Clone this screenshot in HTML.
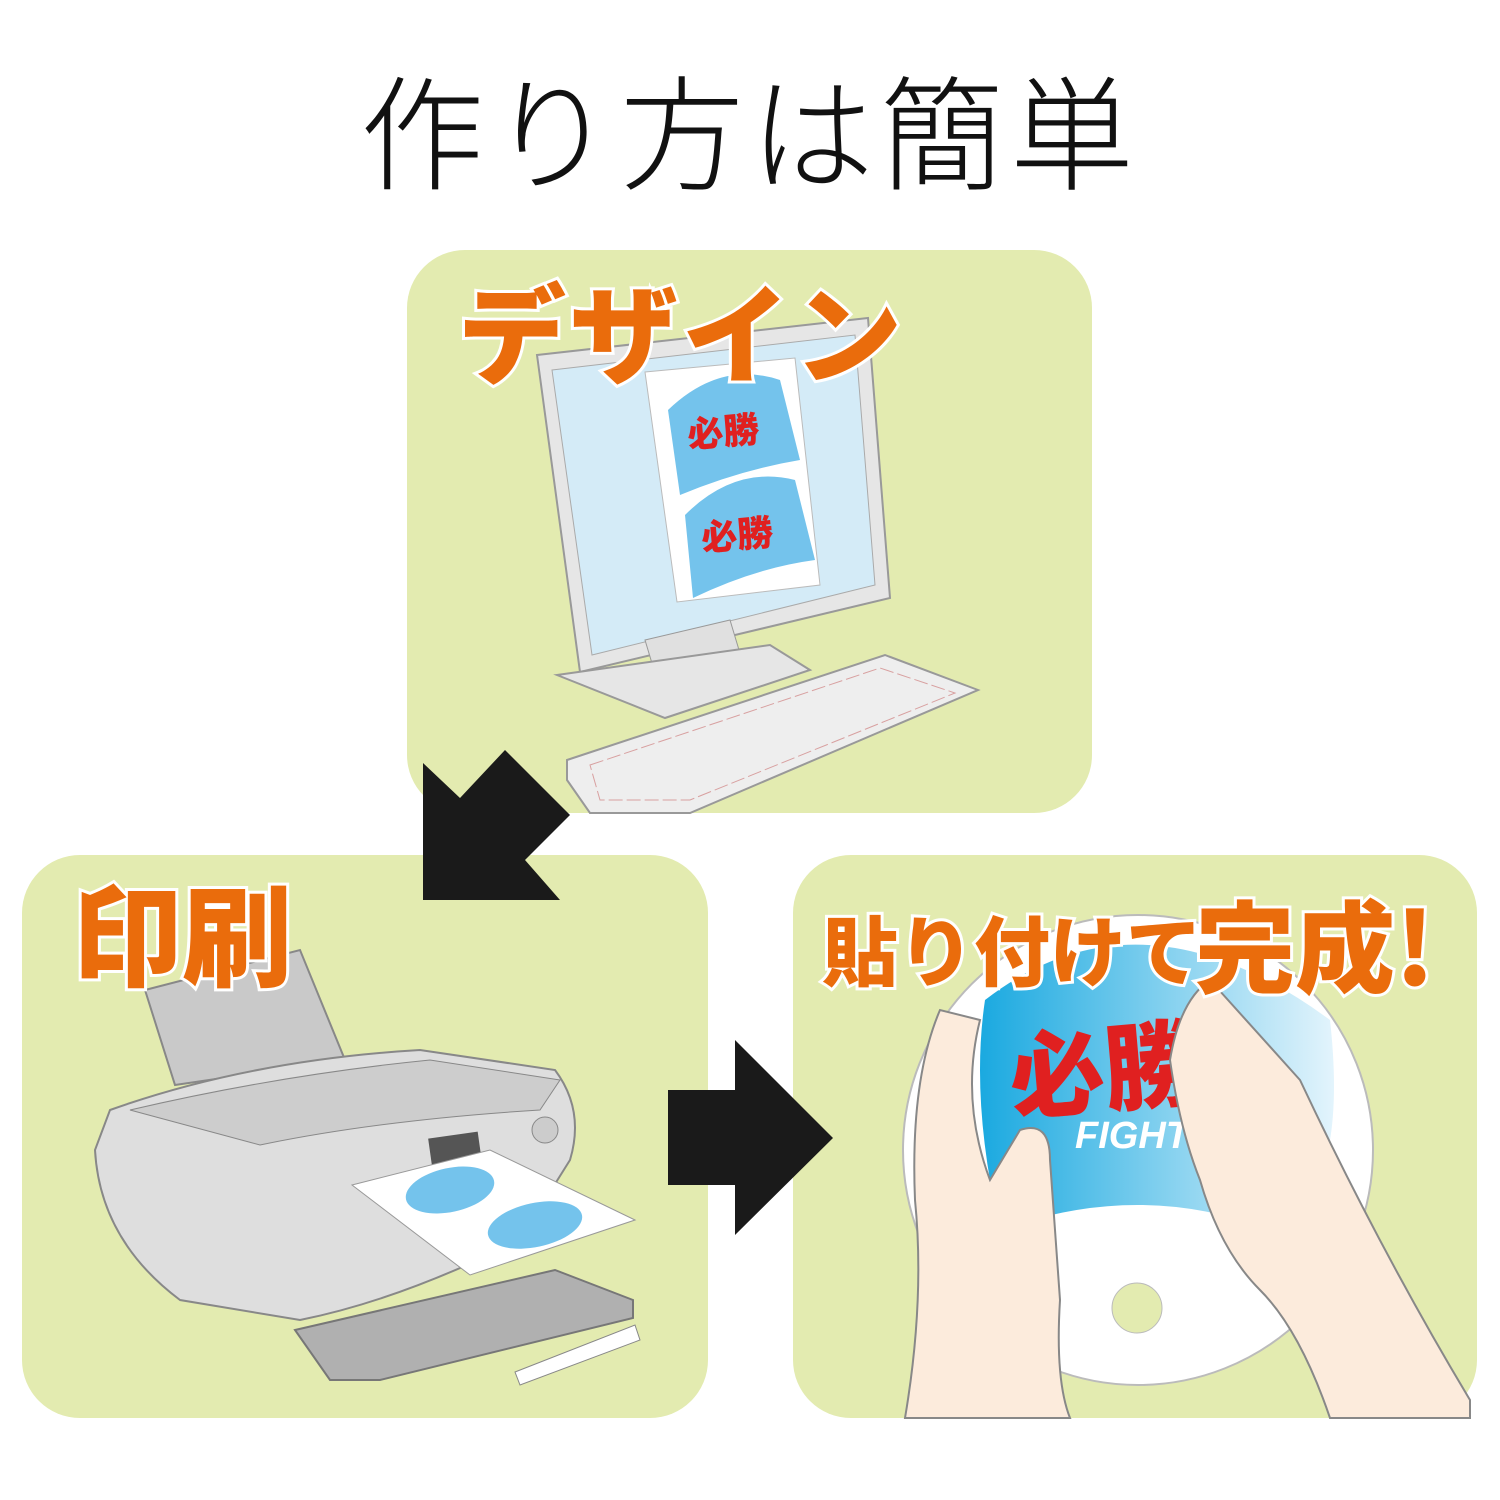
<!DOCTYPE html>
<html><head><meta charset="utf-8"><style>
html,body{margin:0;padding:0;background:#fff;}
body{width:1500px;height:1500px;overflow:hidden;}
svg{display:block}
text{font-family:"Liberation Sans","Noto Sans CJK JP",sans-serif;}
.o{fill:#ea6c0c;stroke:#fff;stroke-width:6;paint-order:stroke;font-weight:900;}
</style></head><body>
<svg width="1500" height="1500" viewBox="0 0 1500 1500" xmlns="http://www.w3.org/2000/svg">
<text x="750" y="180" text-anchor="middle" font-size="124" font-weight="300" letter-spacing="6" fill="#111" style="font-family:'Noto Sans CJK JP',sans-serif;font-weight:300">作り方は簡単</text>

<rect x="407" y="250" width="685" height="563" rx="58" fill="#e3ebb0"/>
<rect x="22" y="855" width="686" height="563" rx="58" fill="#e3ebb0"/>
<rect x="793" y="855" width="684" height="563" rx="58" fill="#e3ebb0"/>

<!-- monitor -->
<polygon points="537,355 868,318 890,598 580,672" fill="#e6e6e6" stroke="#999" stroke-width="2"/>
<polygon points="552,370 855,335 875,585 592,655" fill="#d4ebf7" stroke="#aaa" stroke-width="1"/>
<polygon points="645,640 730,620 745,670 660,690" fill="#e0e0e0" stroke="#999"/>
<polygon points="557,675 770,645 810,670 665,718" fill="#e6e6e6" stroke="#999" stroke-width="2"/>
<polygon points="645,372 795,358 820,585 677,602" fill="#fff" stroke="#bbb"/>
<path d="M668,410 Q720,360 780,380 L800,460 Q740,470 680,495 Z" fill="#74c3ec"/>
<path d="M685,515 Q735,465 795,480 L815,560 Q755,568 693,598 Z" fill="#74c3ec"/>
<text x="688" y="445" font-size="36" font-weight="900" fill="#e02020" transform="rotate(-5 720 440)" style="font-family:'Noto Sans CJK JP'">必勝</text>
<text x="702" y="548" font-size="36" font-weight="900" fill="#e02020" transform="rotate(-5 735 545)" style="font-family:'Noto Sans CJK JP'">必勝</text>
<!-- keyboard -->
<polygon points="567,760 885,655 978,690 690,813 590,813 567,780" fill="#eeeeee" stroke="#999" stroke-width="2"/>
<polygon points="590,765 880,668 955,693 690,800 600,800" fill="none" stroke="#d8a0a0" stroke-width="1" stroke-dasharray="14 4"/>

<!-- arrows -->
<polygon points="505,750 570,815 525,860 560,900 423,900 423,763 460,798" fill="#1a1a1a"/>
<polygon points="668,1090 735,1090 735,1040 833,1138 735,1235 735,1185 668,1185" fill="#1a1a1a"/>

<!-- printer -->
<polygon points="145,990 300,950 345,1060 175,1085" fill="#c9c9c9" stroke="#888" stroke-width="2"/>
<path d="M110,1110 Q250,1060 420,1050 L555,1070 Q585,1110 570,1160 L520,1240 Q400,1300 300,1320 L180,1300 Q100,1240 95,1150 Z" fill="#dedede" stroke="#888" stroke-width="2"/>
<path d="M130,1110 Q280,1075 430,1060 L560,1080 L540,1110 Q380,1120 260,1145 Z" fill="#cdcdcd" stroke="#888"/>
<rect x="430" y="1135" width="50" height="28" fill="#555" transform="rotate(-8 455 1150)"/>
<circle cx="545" cy="1130" r="13" fill="#ccc" stroke="#888"/>
<polygon points="295,1330 555,1270 633,1300 633,1318 380,1380 330,1380" fill="#b0b0b0" stroke="#777" stroke-width="2"/>
<polygon points="515,1372 635,1325 640,1340 520,1385" fill="#fff" stroke="#888"/>
<polygon points="352,1185 490,1150 635,1220 470,1275" fill="#fff" stroke="#999"/>
<ellipse cx="450" cy="1190" rx="45" ry="22" fill="#74c3ec" transform="rotate(-12 450 1190)"/>
<ellipse cx="535" cy="1225" rx="48" ry="22" fill="#74c3ec" transform="rotate(-12 535 1225)"/>

<!-- disc & hands -->
<defs><linearGradient id="g" x1="0" x2="1"><stop offset="0" stop-color="#1aa9e0"/><stop offset="1" stop-color="#e3f4fc"/></linearGradient></defs>
<circle cx="1138" cy="1150" r="235" fill="#fff" stroke="#bbb" stroke-width="2"/>
<path d="M985,1000 Q1140,880 1330,1020 Q1350,1200 1270,1230 Q1140,1180 1000,1230 Q970,1100 985,1000 Z" fill="url(#g)"/>
<circle cx="1137" cy="1308" r="25" fill="#e3ebb0" stroke="#bbb"/>
<text x="1010" y="1105" font-size="95" font-weight="900" fill="#e02020" style="font-family:'Noto Sans CJK JP'" transform="rotate(-5 1100 1080)">必勝</text>
<text x="1075" y="1148" font-size="38" font-weight="900" font-style="italic" fill="#fff">FIGHT!</text>
<path d="M905,1418 Q925,1300 915,1200 Q910,1080 940,1010 L980,1020 Q960,1100 990,1180 L1020,1130 Q1050,1120 1050,1160 L1060,1300 Q1055,1380 1070,1418 Z" fill="#fcebdc" stroke="#888" stroke-width="2"/>
<path d="M1170,1060 Q1180,1000 1210,980 L1300,1080 Q1380,1250 1470,1400 L1470,1418 L1330,1418 Q1300,1330 1260,1290 Q1220,1250 1200,1180 Q1180,1130 1170,1060 Z" fill="#fcebdc" stroke="#888" stroke-width="2"/>

<!-- labels -->
<text x="458" y="375" class="o" font-size="108" style="font-family:'Noto Sans CJK JP';font-weight:900" letter-spacing="4">デザイン</text>
<text x="72" y="978" class="o" font-size="110" style="font-family:'Noto Sans CJK JP';font-weight:900">印刷</text>
<text x="822" y="980" class="o" font-size="76" style="font-family:'Noto Sans CJK JP';font-weight:900">貼り付けて</text>
<text x="1195" y="985" class="o" font-size="100" style="font-family:'Noto Sans CJK JP';font-weight:900">完成!</text>
</svg>
</body></html>
